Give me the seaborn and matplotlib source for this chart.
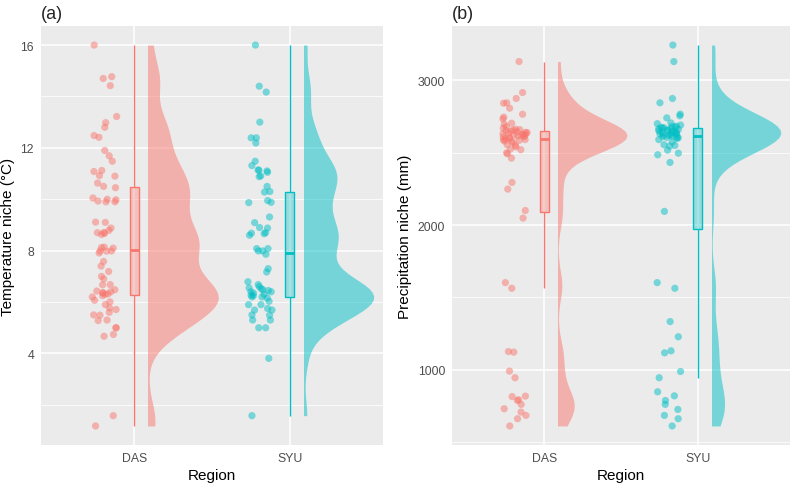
import numpy as np
import pandas as pd
import seaborn as sns
import matplotlib.pyplot as plt
from matplotlib.colors import to_rgba
from matplotlib.patches import Rectangle
from matplotlib.transforms import Affine2D

regions = ["DAS", "SYU"]
palette = {"DAS": "#F8766D", "SYU": "#00BFC4"}

# temperature niche (degC)
das_temp = [16.0, 14.77, 14.7, 14.42, 13.22, 12.98, 12.8, 12.48, 12.41, 11.9, 11.69, 11.48,
            11.12, 11.08, 10.92, 10.9, 10.63, 10.5,
            10.45, 10.05, 10.0, 9.98, 9.93, 9.9, 9.9, 9.11, 9.1, 8.88, 8.79, 8.71, 8.7, 8.67,
            8.63, 8.14, 8.12, 8.1,
            7.99, 7.99, 7.98, 7.91, 7.58, 7.4, 7.19, 7.0, 6.9, 6.68, 6.67, 6.48, 6.43, 6.4,
            6.37, 6.35, 6.32, 6.3,
            6.25, 6.2, 6.07, 6.01, 5.9, 5.77, 5.71, 5.6, 5.5, 5.49, 5.3, 5.28, 5.0, 5.0,
            4.74, 4.67, 1.58, 1.18]
syu_temp = [16.0, 14.4, 14.17, 13.0, 12.39, 12.39, 12.19, 11.48, 11.31, 11.14, 11.13, 11.1,
            11.05, 10.91, 10.88, 10.5,
            10.3, 10.28, 9.95, 9.88, 9.87, 9.31, 9.09, 8.9, 8.88, 8.7, 8.68, 8.66, 8.6, 8.08,
            8.08, 7.99, 7.99,
            7.86, 7.3, 7.17, 6.79, 6.68, 6.6, 6.55, 6.52, 6.48, 6.45, 6.4, 6.4, 6.35, 6.3,
            6.27, 6.25,
            6.2, 6.2, 6.16, 6.03, 5.9, 5.9, 5.75, 5.69, 5.69, 5.5, 5.49, 5.3, 5.3, 5.0, 5.0,
            3.81, 1.58]

# precipitation niche (mm)
das_prec = [3129, 2915, 2874, 2844, 2841, 2807, 2765, 2745, 2733, 2703, 2697, 2680, 2669,
            2662, 2659, 2655, 2652,
            2648, 2645, 2640, 2638, 2635, 2630, 2628, 2625, 2622, 2620, 2618, 2615, 2610,
            2607, 2603, 2600, 2596,
            2590, 2588, 2585, 2580, 2578, 2570, 2555, 2550, 2540, 2525, 2520, 2498, 2492,
            2462, 2294, 2248, 2100,
            2048, 1602, 1563, 1126, 1122, 991, 945, 818, 815, 793, 788, 761, 731, 708, 685,
            662, 612]
syu_prec = [3243, 3129, 2874, 2844, 2766, 2754, 2740, 2705, 2700, 2690, 2682, 2680, 2678,
            2675, 2672, 2670,
            2666, 2663, 2660, 2656, 2653, 2650, 2646, 2643, 2640, 2636, 2633, 2630, 2628,
            2625, 2622, 2618,
            2614, 2610, 2608, 2605, 2602, 2598, 2590, 2575, 2555, 2550, 2545, 2517, 2496,
            2485, 2432, 2094,
            1602, 1563, 1333, 1228, 1131, 1117, 988, 945, 848, 820, 788, 761, 726, 685, 662,
            612]

temp_ticks = [4, 8, 12, 16]
temp_minor = [2, 6, 10, 14]
prec_ticks = [1000, 2000, 3000]
prec_minor = [500, 1500, 2500]


def nrd0(kde):
    # R's default bandwidth (bw.nrd0) expressed as a gaussian_kde factor
    x = kde.dataset[0]
    sd = x.std(ddof=1)
    q75, q25 = np.percentile(x, [75, 25])
    h = 0.9 * min(sd, (q75 - q25) / 1.34) * len(x) ** -0.2
    return h / sd


def raincloud(ax, das, syu, ylabel, ticks, minor, tag):
    df = pd.DataFrame({
        "Region": ["DAS"] * len(das) + ["SYU"] * len(syu),
        "value": das + syu,
    })

    # half violins, nudged to the right
    n0 = len(ax.collections)
    sns.violinplot(data=df, x="Region", y="value", hue="Region", order=regions,
                   hue_order=regions, palette=palette, saturation=1, inner=None, cut=0,
                   density_norm="area", width=0.9, bw_method=nrd0, bw_adjust=0.6,
                   linewidth=0, legend=False, ax=ax)
    for i, coll in enumerate(ax.collections[n0:]):
        tr = Affine2D().translate(0.09, 0) + ax.transData
        coll.set_transform(tr)
        coll.set_clip_path(Rectangle((i, -1e6), 1, 2e6, transform=tr))
        coll.set_alpha(0.5)
        coll.set_linewidth(0)

    # narrow boxes at the category position
    for reg in regions:
        p0 = len(ax.patches)
        sns.boxplot(data=df[df["Region"] == reg], x="Region", y="value", order=regions,
                    color=palette[reg], linecolor=palette[reg], saturation=1, width=0.06,
                    showfliers=False, showcaps=False, linewidth=1,
                    medianprops={"linewidth": 2}, ax=ax)
        for p in ax.patches[p0:]:
            p.set_facecolor(to_rgba(palette[reg], 0.35))

    # jittered raw points, nudged to the left
    n0 = len(ax.collections)
    sns.stripplot(data=df, x="Region", y="value", hue="Region", order=regions,
                  hue_order=regions, palette=palette, jitter=0.08, size=5.2, alpha=0.5,
                  linewidth=0, legend=False, ax=ax)
    for coll in ax.collections[n0:]:
        coll.set_offset_transform(Affine2D().translate(-0.19, 0) + ax.transData)

    lo, hi = min(das + syu), max(das + syu)
    pad = (hi - lo) * 0.05
    ax.set_ylim(lo - pad, hi + pad)
    ax.set_xlim(-0.6, 1.6)
    ax.set_yticks(ticks)
    ax.set_yticks(minor, minor=True)
    ax.set_xticks([0, 1], regions)

    ax.grid(True, which="major", axis="both", color="white", linewidth=1.1)
    ax.grid(True, which="minor", axis="y", color="white", linewidth=0.55)
    ax.set_axisbelow(True)
    for s in ax.spines.values():
        s.set_visible(False)
    ax.tick_params(which="major", length=3, width=0.6, color="#333333",
                   labelsize=8.8, labelcolor="#4D4D4D", pad=2)
    ax.tick_params(which="minor", length=0)

    ax.set_xlabel("Region", fontsize=11, color="black", labelpad=3)
    ax.set_ylabel(ylabel, fontsize=11, color="black", labelpad=4)
    ax.set_title(tag, loc="left", fontsize=13, pad=5.5)


np.random.seed(7)
sns.set_theme(style="darkgrid")
plt.rcParams["font.family"] = ["Liberation Sans", "DejaVu Sans"]
plt.rcParams["axes.facecolor"] = "#EBEBEB"

fig = plt.figure(figsize=(7.93, 4.85), dpi=100)
ax1 = fig.add_axes([41 / 793, 39 / 485, 342 / 793, 419 / 485])
ax2 = fig.add_axes([452 / 793, 39 / 485, 338 / 793, 419 / 485])

raincloud(ax1, das_temp, syu_temp, "Temperature niche (°C)", temp_ticks, temp_minor, "(a)")
raincloud(ax2, das_prec, syu_prec, "Precipitation niche (mm)", prec_ticks, prec_minor, "(b)")

fig.savefig("out.png", dpi=100, facecolor="white")
plt.close(fig)
